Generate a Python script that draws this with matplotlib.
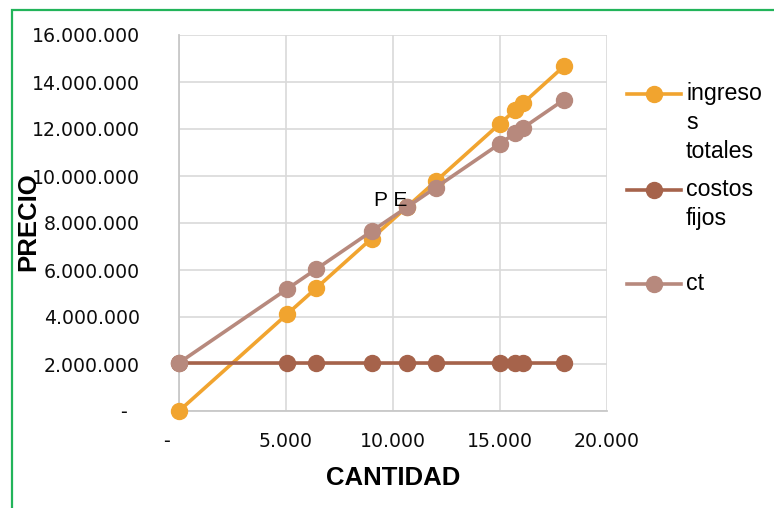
import matplotlib.pyplot as plt
from matplotlib.lines import Line2D
from matplotlib.ticker import FuncFormatter, MultipleLocator

# quantities sold and the three series of the break-even chart
cantidad = [0, 5050, 6400, 9000, 10650, 12000, 15000, 15700, 16080, 18000]
ingresos_totales = [0, 4120000, 5220000, 7340000, 8680000, 9780000,
                    12230000, 12800000, 13100000, 14680000]
costos_fijos = [2050000] * 10
ct = [2050000, 5190000, 6030000, 7650000, 8670000, 9510000,
      11380000, 11820000, 12050000, 13250000]

series = [
    ("ingreso\ns\ntotales", ingresos_totales, "#F1A42F"),
    ("costos\nfijos", costos_fijos, "#A6634B"),
    ("ct", ct, "#B7897D"),
]

W, H = 774, 508
fig = plt.figure(figsize=(W / 100, H / 100), dpi=100)
ax = fig.add_axes([179 / W, (H - 411) / H, (607 - 179) / W, (411 - 35) / H])

for label, vals, color in series:
    ax.plot(cantidad, vals, color=color, lw=2.6, marker="o", ms=11.5,
            mec=color, mfc=color, clip_on=False, zorder=3)

ax.set_xlim(0, 20000)
ax.set_ylim(0, 16000000)
ax.xaxis.set_major_locator(MultipleLocator(5000))
ax.yaxis.set_major_locator(MultipleLocator(2000000))


def miles(v, pad):
    if v == 0:
        return "-" + " " * pad
    return f"{int(v):,}".replace(",", ".")


ax.xaxis.set_major_formatter(FuncFormatter(lambda v, p: miles(v, 4)))
ax.yaxis.set_major_formatter(FuncFormatter(lambda v, p: miles(v, 2)))
ax.tick_params(axis="both", length=0, labelsize=13.6, labelcolor="#0d0d0d")
ax.tick_params(axis="y", pad=28)
ax.tick_params(axis="x", pad=15)

ax.grid(True, color="#D9D9D9", lw=1.2)
ax.set_axisbelow(True)
for side in ["top", "right"]:
    ax.spines[side].set_visible(False)
for side in ["left", "bottom"]:
    ax.spines[side].set_color("#C8C8C8")
    ax.spines[side].set_linewidth(1.3)

ax.set_xlabel("CANTIDAD", family="Liberation Sans", fontweight="bold",
              fontsize=18.5, va="center")
ax.xaxis.set_label_coords(0.5, (411 - 478) / 376)
ax.set_ylabel("PRECIO", family="Liberation Sans", fontweight="bold",
              fontsize=18.5, va="center")
ax.yaxis.set_label_coords((28 - 179) / 428, (411 - 222) / 376)

ax.text(9900, 8940000, "P E", ha="center", va="center", fontsize=15,
        family="Liberation Sans")

# legend on the right, one slot per series
for (label, vals, color), y in zip(series, [94, 190, 284]):
    fy = 1 - y / H
    fig.add_artist(Line2D([627 / W, 654 / W, 681 / W], [fy, fy, fy],
                          color=color, lw=2.6, marker="o", ms=11.5,
                          markevery=[1], transform=fig.transFigure))
    fig.text(686 / W, fy + 12 / H, label, ha="left", va="top",
             fontsize=16.7, family="Liberation Sans", linespacing=1.32)

# green frame around the chart area (left and top edges visible)
frame_x, frame_y = 11.5 / W, 1 - 9.5 / H
fig.add_artist(Line2D([frame_x, frame_x, 1.0], [0.0, frame_y, frame_y],
                      color="#22B45A", lw=1.6, solid_joinstyle="miter",
                      transform=fig.transFigure))

fig.savefig("out.png", dpi=100)
